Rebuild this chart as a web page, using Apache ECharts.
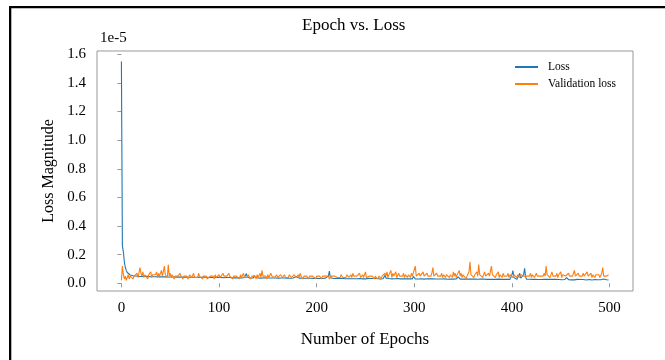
<!DOCTYPE html>
<html>
<head>
<meta charset="utf-8">
<script src="https://cdn.jsdelivr.net/npm/echarts@6/dist/echarts.min.js"></script>
<style>
  html, body { margin: 0; padding: 0; background: #fff; }
  #chart { width: 665px; height: 360px; }
</style>
</head>
<body>
<div id="chart"></div>
<script>
// values in units of 1e-5, one per epoch (0..499)
var lossValues = [
  1.55,0.26,0.22,0.15,0.11,0.09,0.075,0.068,0.062,0.058,0.055,0.053,0.052,0.05,0.049,0.051,0.048,0.05,0.047,0.049,
  0.048,0.047,0.049,0.046,0.048,0.047,0.046,0.048,0.045,0.047,0.046,0.048,0.045,0.046,0.047,0.045,0.046,0.044,0.047,0.045,
  0.046,0.044,0.045,0.047,0.044,0.045,0.043,0.046,0.044,0.045,0.043,0.044,0.046,0.043,0.044,0.042,0.045,0.043,0.044,0.042,
  0.043,0.044,0.042,0.043,0.045,0.042,0.043,0.041,0.044,0.042,0.043,0.041,0.042,0.044,0.041,0.042,0.04,0.043,0.041,0.042,
  0.04,0.042,0.041,0.04,0.043,0.041,0.04,0.042,0.039,0.041,0.04,0.042,0.039,0.04,0.041,0.039,0.042,0.04,0.039,0.041,
  0.04,0.039,0.041,0.038,0.04,0.039,0.041,0.038,0.04,0.039,0.038,0.04,0.039,0.041,0.038,0.039,0.04,0.038,0.039,0.037,
  0.039,0.038,0.04,0.037,0.039,0.038,0.04,0.045,0.068,0.042,0.038,0.039,0.037,0.038,0.04,0.037,0.055,0.04,0.037,0.038,
  0.037,0.039,0.038,0.036,0.038,0.037,0.039,0.036,0.038,0.037,0.036,0.038,0.037,0.039,0.036,0.037,0.038,0.036,0.037,0.035,
  0.037,0.036,0.038,0.035,0.037,0.036,0.035,0.037,0.036,0.038,0.035,0.036,0.037,0.035,0.036,0.034,0.037,0.035,0.036,0.048,
  0.037,0.035,0.036,0.034,0.036,0.035,0.037,0.034,0.035,0.036,0.034,0.035,0.036,0.034,0.035,0.033,0.036,0.034,0.035,0.034,
  0.035,0.034,0.036,0.033,0.035,0.034,0.033,0.035,0.034,0.036,0.033,0.034,0.05,0.085,0.04,0.034,0.035,0.033,0.034,0.035,
  0.033,0.034,0.035,0.033,0.034,0.032,0.035,0.033,0.034,0.032,0.033,0.035,0.032,0.034,0.033,0.032,0.034,0.033,0.032,0.034,
  0.033,0.032,0.034,0.031,0.033,0.032,0.034,0.031,0.033,0.032,0.031,0.033,0.032,0.034,0.031,0.032,0.033,0.031,0.032,0.033,
  0.031,0.032,0.033,0.031,0.032,0.03,0.033,0.031,0.032,0.045,0.055,0.036,0.032,0.031,0.033,0.03,0.032,0.031,0.033,0.031,
  0.032,0.03,0.031,0.033,0.03,0.032,0.031,0.03,0.032,0.031,0.03,0.032,0.031,0.033,0.03,0.031,0.032,0.03,0.031,0.048,
  0.035,0.031,0.03,0.032,0.03,0.031,0.029,0.032,0.03,0.031,0.029,0.031,0.03,0.032,0.029,0.03,0.031,0.029,0.03,0.031,
  0.029,0.031,0.03,0.029,0.031,0.03,0.029,0.031,0.03,0.029,0.03,0.031,0.029,0.03,0.028,0.031,0.029,0.03,0.029,0.031,
  0.029,0.03,0.028,0.03,0.029,0.045,0.032,0.029,0.03,0.028,0.029,0.03,0.028,0.029,0.03,0.028,0.029,0.03,0.028,0.029,
  0.03,0.028,0.029,0.027,0.029,0.028,0.03,0.028,0.029,0.027,0.028,0.03,0.028,0.029,0.027,0.028,0.029,0.027,0.028,0.029,
  0.027,0.028,0.029,0.027,0.028,0.026,0.029,0.027,0.028,0.027,0.026,0.028,0.027,0.029,0.026,0.027,0.028,0.026,0.027,0.03,
  0.06,0.088,0.04,0.03,0.028,0.027,0.029,0.04,0.07,0.035,0.028,0.03,0.06,0.105,0.045,0.028,0.027,0.026,0.028,0.027,
  0.026,0.027,0.028,0.026,0.027,0.025,0.028,0.026,0.027,0.025,0.026,0.028,0.026,0.027,0.025,0.03,0.027,0.026,0.025,0.027,
  0.026,0.025,0.027,0.026,0.025,0.027,0.026,0.024,0.026,0.025,0.027,0.025,0.026,0.024,0.026,0.025,0.04,0.028,0.025,0.026,
  0.025,0.024,0.026,0.025,0.024,0.026,0.025,0.027,0.024,0.025,0.026,0.024,0.025,0.026,0.024,0.025,0.023,0.025,0.024,0.026,
  0.024,0.025,0.023,0.025,0.024,0.026,0.023,0.024,0.025,0.023,0.024,0.025,0.023,0.024,0.03,0.024,0.023,0.025,0.024,0.023
];
var valLossValues = [
  0.02,0.12,0.06,0.03,0.05,0.02,0.04,0.06,0.03,0.05,0.04,0.06,0.03,0.05,0.04,0.06,0.07,0.04,0.05,0.11,
  0.07,0.05,0.08,0.04,0.06,0.05,0.07,0.03,0.06,0.05,0.08,0.04,0.06,0.07,0.05,0.06,0.08,0.04,0.07,0.05,
  0.06,0.09,0.05,0.04,0.12,0.06,0.05,0.04,0.13,0.05,0.07,0.04,0.06,0.05,0.03,0.05,0.04,0.06,0.05,0.04,
  0.07,0.05,0.04,0.03,0.05,0.06,0.04,0.05,0.03,0.04,0.06,0.05,0.04,0.05,0.07,0.04,0.03,0.05,0.04,0.07,
  0.05,0.04,0.06,0.03,0.05,0.04,0.06,0.05,0.03,0.04,0.02,0.05,0.06,0.04,0.05,0.03,0.06,0.04,0.05,0.04,
  0.06,0.04,0.05,0.03,0.07,0.05,0.04,0.06,0.05,0.04,0.07,0.05,0.06,0.04,0.03,0.05,0.04,0.06,0.05,0.04,
  0.05,0.03,0.06,0.04,0.05,0.07,0.04,0.03,0.05,0.04,0.06,0.05,0.03,0.04,0.05,0.06,0.04,0.05,0.03,0.06,
  0.04,0.05,0.07,0.04,0.09,0.05,0.06,0.04,0.05,0.03,0.06,0.04,0.05,0.07,0.05,0.04,0.06,0.04,0.05,0.06,
  0.04,0.05,0.03,0.06,0.05,0.04,0.05,0.06,0.04,0.05,0.03,0.04,0.06,0.05,0.04,0.05,0.03,0.06,0.05,0.04,
  0.05,0.06,0.04,0.07,0.05,0.04,0.03,0.05,0.04,0.06,0.05,0.03,0.04,0.05,0.06,0.04,0.05,0.04,0.06,0.03,
  0.05,0.04,0.06,0.05,0.04,0.03,0.05,0.06,0.04,0.05,0.04,0.06,0.05,0.03,0.04,0.05,0.04,0.06,0.05,0.04,
  0.05,0.04,0.03,0.05,0.04,0.06,0.05,0.04,0.05,0.03,0.04,0.06,0.05,0.04,0.05,0.06,0.04,0.07,0.05,0.04,
  0.06,0.05,0.04,0.05,0.07,0.04,0.05,0.06,0.04,0.05,0.08,0.04,0.05,0.03,0.05,0.04,0.06,0.05,0.04,0.03,
  0.05,0.04,0.03,0.04,0.05,0.04,0.03,0.05,0.06,0.04,0.07,0.05,0.08,0.04,0.06,0.05,0.09,0.04,0.07,0.05,
  0.06,0.08,0.04,0.05,0.07,0.05,0.04,0.06,0.05,0.07,0.04,0.06,0.05,0.04,0.06,0.05,0.04,0.07,0.05,0.06,
  0.04,0.12,0.05,0.06,0.04,0.07,0.05,0.06,0.04,0.08,0.05,0.06,0.04,0.07,0.05,0.04,0.06,0.05,0.07,0.11,
  0.05,0.06,0.04,0.07,0.05,0.06,0.04,0.05,0.07,0.04,0.06,0.05,0.04,0.06,0.05,0.07,0.04,0.06,0.05,0.04,
  0.08,0.05,0.07,0.04,0.06,0.05,0.09,0.05,0.07,0.04,0.06,0.05,0.07,0.03,0.05,0.06,0.08,0.15,0.06,0.05,
  0.07,0.04,0.06,0.05,0.08,0.05,0.13,0.06,0.05,0.07,0.04,0.06,0.08,0.05,0.06,0.04,0.07,0.05,0.06,0.12,
  0.06,0.05,0.07,0.04,0.06,0.05,0.08,0.04,0.06,0.05,0.04,0.07,0.05,0.06,0.04,0.05,0.07,0.04,0.06,0.05,
  0.05,0.04,0.06,0.05,0.07,0.04,0.06,0.05,0.04,0.06,0.05,0.07,0.05,0.04,0.06,0.05,0.04,0.06,0.05,0.07,
  0.04,0.06,0.05,0.04,0.05,0.07,0.05,0.04,0.06,0.05,0.04,0.06,0.05,0.07,0.05,0.12,0.06,0.05,0.07,0.04,
  0.06,0.08,0.05,0.04,0.06,0.05,0.07,0.04,0.06,0.05,0.08,0.04,0.06,0.05,0.07,0.05,0.04,0.06,0.07,0.05,
  0.06,0.04,0.05,0.07,0.09,0.05,0.06,0.04,0.07,0.05,0.06,0.04,0.05,0.07,0.05,0.06,0.04,0.08,0.05,0.06,
  0.05,0.07,0.04,0.06,0.05,0.04,0.06,0.07,0.05,0.06,0.04,0.05,0.07,0.11,0.05,0.04,0.06,0.05,0.04,0.06
];
var xTicks = [0, 100, 200, 300, 400, 500];
var yTicks = [0, 0.2, 0.4, 0.6, 0.8, 1.0, 1.2, 1.4, 1.6];

var serif = 'Liberation Serif';

var myChart = echarts.init(document.getElementById('chart'));

var option = {
  animation: false,
  backgroundColor: '#fff',
  title: {
    text: 'Epoch vs. Loss',
    left: 302,
    top: 17,
    padding: 0,
    textStyle: { fontFamily: serif, fontSize: 17, fontWeight: 'normal', color: '#000' }
  },
  legend: {
    orient: 'vertical',
    left: 510,
    top: 55,
    itemWidth: 23,
    itemHeight: 2,
    itemGap: 3,
    icon: 'rect',
    textStyle: { fontFamily: serif, fontSize: 11.5, color: '#000', lineHeight: 14, padding: [0, 0, 0, 5] },
    data: ['Loss', 'Validation loss']
  },
  graphic: [
    { type: 'rect', left: 9, top: 6, shape: { width: 656, height: 2.3 }, style: { fill: '#000' } },
    { type: 'rect', left: 9, top: 6, shape: { width: 2.3, height: 354 }, style: { fill: '#000' } },
    { type: 'text', left: 100, top: 31, style: { text: '1e-5', fontFamily: serif, fontSize: 15, fill: '#000' } }
  ],
  grid: {
    left: 97,
    top: 51,
    width: 536,
    height: 240,
    show: true,
    borderColor: '#999',
    borderWidth: 1
  },
  xAxis: {
    type: 'value',
    min: -25,
    max: 524,
    name: 'Number of Epochs',
    nameLocation: 'middle',
    nameGap: 40,
    nameTextStyle: { fontFamily: serif, fontSize: 17, color: '#000' },
    axisLine: { show: false },
    axisTick: { show: true, length: 4, customValues: xTicks, lineStyle: { color: '#999' } },
    axisLabel: { customValues: xTicks, margin: 10, fontFamily: serif, fontSize: 15, color: '#000' },
    splitLine: { show: false }
  },
  yAxis: {
    type: 'value',
    min: -0.054,
    max: 1.623,
    name: 'Loss Magnitude',
    nameLocation: 'middle',
    nameGap: 34,
    nameTextStyle: { fontFamily: serif, fontSize: 16, color: '#000' },
    axisLine: { show: false },
    axisTick: { show: true, length: 4, customValues: yTicks, lineStyle: { color: '#999' } },
    axisLabel: {
      customValues: yTicks,
      margin: 11,
      fontFamily: serif,
      fontSize: 15,
      color: '#000',
      formatter: function (v) { return v.toFixed(1) }
    },
    splitLine: { show: false }
  },
  series: [
    {
      name: 'Loss',
      type: 'line',
      showSymbol: false,
      lineStyle: { width: 1.1, color: '#1f77b4' },
      itemStyle: { color: '#1f77b4' },
      data: lossValues.map(function (v, i) { return [i, v] })
    },
    {
      name: 'Validation loss',
      type: 'line',
      showSymbol: false,
      lineStyle: { width: 1.1, color: '#ff7f0e' },
      itemStyle: { color: '#ff7f0e' },
      data: valLossValues.map(function (v, i) { return [i, v] })
    }
  ]
};

myChart.setOption(option);
</script>
</body>
</html>
